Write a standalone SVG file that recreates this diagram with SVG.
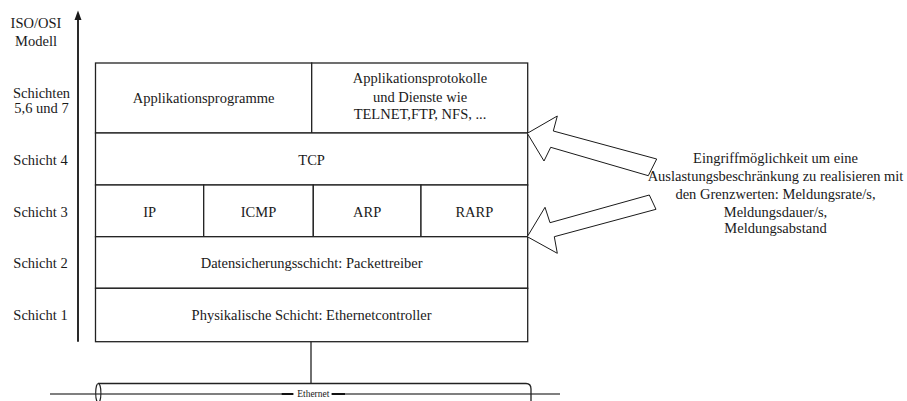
<svg xmlns="http://www.w3.org/2000/svg" width="907" height="401" viewBox="0 0 907 401">
  <style>
    text { font-family: "Liberation Serif", "Times New Roman", serif; font-size: 14.5px; fill: #1a1a1a; text-anchor: middle; }
    .cell { fill: #ffffff; stroke: #222222; stroke-width: 1.3; }
    .line { fill: none; stroke: #222222; stroke-width: 1.3; }
    .fat { fill: #ffffff; stroke: #1a1a1a; stroke-width: 1; stroke-linejoin: miter; }
    .small { font-size: 9.5px; }
  </style>
  <rect width="907" height="401" fill="#ffffff"/>

  <!-- axis and layer labels -->
  <g id="axis">
    <line x1="78" y1="341.7" x2="78" y2="19" stroke="#2a2a2a" stroke-width="2"/>
    <path d="M78,10.5 L74.5,20 L81.5,20 Z" fill="#1a1a1a"/>
    <text x="36" y="27.7">ISO/OSI</text>
    <text x="36" y="46">Modell</text>
    <text x="41.5" y="97.5">Schichten</text>
    <text x="41.5" y="112.7">5,6 und 7</text>
    <text x="40.5" y="165">Schicht 4</text>
    <text x="40.5" y="216.7">Schicht 3</text>
    <text x="40.5" y="268.3">Schicht 2</text>
    <text x="40.5" y="320">Schicht 1</text>
  </g>

  <!-- layer 5-7 -->
  <g id="applikationsprogramme">
    <rect class="cell" x="95.5" y="63" width="216.2" height="70"/>
    <text x="203.6" y="103.3">Applikationsprogramme</text>
  </g>
  <g id="applikationsprotokolle">
    <rect class="cell" x="311.7" y="63" width="216" height="70"/>
    <text x="420" y="83.3">Applikationsprotokolle</text>
    <text x="420" y="101.7">und Dienste wie</text>
    <text x="420" y="119.3">TELNET,FTP, NFS, ...</text>
  </g>

  <!-- layer 4 -->
  <g id="tcp">
    <rect class="cell" x="95.5" y="133" width="432.2" height="52"/>
    <text x="311.6" y="164.5">TCP</text>
  </g>

  <!-- layer 3 -->
  <g id="ip">
    <rect class="cell" x="95.5" y="185" width="108.2" height="51.7"/>
    <text x="149.6" y="216.7">IP</text>
  </g>
  <g id="icmp">
    <rect class="cell" x="203.7" y="185" width="109.6" height="51.7"/>
    <text x="258.5" y="216.7">ICMP</text>
  </g>
  <g id="arp">
    <rect class="cell" x="313.3" y="185" width="107.7" height="51.7"/>
    <text x="367.2" y="216.7">ARP</text>
  </g>
  <g id="rarp">
    <rect class="cell" x="421" y="185" width="106.7" height="51.7"/>
    <text x="474.4" y="216.7">RARP</text>
  </g>

  <!-- layer 2 -->
  <g id="datensicherung">
    <rect class="cell" x="95.5" y="236.7" width="432.2" height="51.6"/>
    <text x="311.6" y="268.3">Datensicherungsschicht: Packettreiber</text>
  </g>

  <!-- layer 1 -->
  <g id="physikalisch">
    <rect class="cell" x="95.5" y="288.3" width="432.2" height="53.4"/>
    <text x="311.6" y="320">Physikalische Schicht: Ethernetcontroller</text>
  </g>

  <!-- ethernet -->
  <g id="ethernet">
    <line x1="50" y1="394" x2="560" y2="394" stroke="#555555" stroke-width="1.3"/>
    <path class="line" d="M98,383.5 H526 Q531,383.5 531,389 V401" stroke-width="1.1"/>
    <ellipse cx="98.3" cy="393" rx="2.6" ry="9.5" fill="none" stroke="#222222" stroke-width="1.1"/>
    <rect x="293.3" y="389" width="38.4" height="10" fill="#ffffff"/>
    <line x1="281.7" y1="394" x2="293.3" y2="394" stroke="#111111" stroke-width="2"/>
    <line x1="331.7" y1="394" x2="345" y2="394" stroke="#111111" stroke-width="2"/>
    <text class="small" x="313.3" y="397">Ethernet</text>
  </g>

  <!-- connectors -->
  <g id="connectors">
    <line class="line" x1="311" y1="341.7" x2="311" y2="383.5"/>
    <path class="fat" d="M527.3,133.3 L557.3,116 L553.3,131 L656.7,159 L648.3,175.7 L550.7,147.3 L544,161 Z"/>
    <path class="fat" d="M527.3,236.7 L545,207.3 L550,222.7 L649.3,195 L656,209.3 L554.3,236.7 L557.3,253.3 Z"/>
  </g>

  <!-- annotation -->
  <g id="hinweis">
    <text x="775.5" y="162.7">Eingriffmöglichkeit um eine</text>
    <text x="775.5" y="181">Auslastungsbeschränkung zu realisieren mit</text>
    <text x="775.5" y="199">den Grenzwerten: Meldungsrate/s,</text>
    <text x="775.5" y="216.7">Meldungsdauer/s,</text>
    <text x="775.5" y="233.3">Meldungsabstand</text>
  </g>
</svg>
